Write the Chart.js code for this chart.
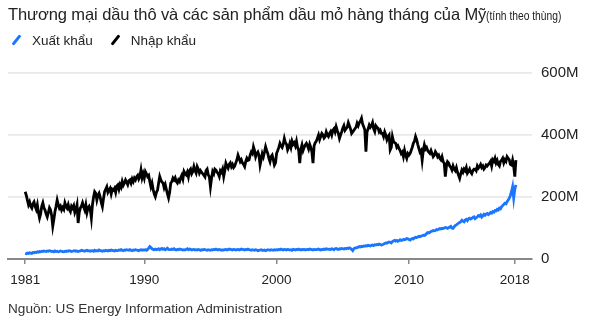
<!DOCTYPE html>
<html>
<head>
<meta charset="utf-8">
<script src="https://cdn.jsdelivr.net/npm/chart.js@4/dist/chart.umd.min.js"></script>
<style>
  html, body { margin: 0; padding: 0; background: #fff; }
  body { width: 600px; height: 332px; position: relative; overflow: hidden; font-family: "Liberation Sans", Arial, sans-serif; color: #222; }
  #title { position: absolute; left: 8px; top: 5px; font-size: 16.5px; white-space: nowrap; letter-spacing: -0.1px; }
  #title small { display: inline-block; font-size: 13px; letter-spacing: 0; transform: scaleX(0.79); transform-origin: left center; }
  #legend { position: absolute; left: 10px; top: 33px; font-size: 13.5px; white-space: nowrap; }
  #legend span.item { margin-right: 16px; }
  #legend i { display: inline-block; width: 3px; height: 12px; transform: rotate(38deg); margin: 0 14px -1px 5px; border-radius: 1px; }
  #source { position: absolute; left: 8px; top: 301px; font-size: 13.6px; color: #333; white-space: nowrap; }
  #wrap { position: absolute; left: 0; top: 0; width: 600px; height: 332px; }
</style>
</head>
<body>
<div id="wrap"><canvas id="chart" width="600" height="332"></canvas></div>
<div id="title">Thương mại dầu thô và các sản phẩm dầu mỏ hàng tháng của Mỹ<small>(tính theo thùng)</small></div>
<div id="legend"><span class="item"><i style="background:#1a75ff"></i>Xuất khẩu</span><span class="item"><i style="background:#000"></i>Nhập khẩu</span></div>
<div id="source">Nguồn: US Energy Information Administration</div>
<script>
// monthly values, millions of barrels, Jan 1981 .. Feb 2018
const startYear = 1981;
const xTicks = [1981, 1990, 2000, 2010, 2018];
const yTicks = [0, 200, 400, 600];

const imports = [
  217,205,190,175,184,170,164,178,184,170,160,175,
  150,132,145,170,181,165,158,145,136,150,165,158,
  140,106,128,153,170,190,175,164,170,158,166,160,
  181,170,164,175,160,153,170,164,172,150,160,175,
  116,150,164,170,181,168,158,175,150,165,170,160,
  132,175,200,217,212,190,205,212,200,182,169,195,
  217,225,233,215,222,228,210,225,222,228,215,235,
  239,225,240,232,250,238,245,255,248,240,252,255,
  245,258,250,261,255,265,270,258,266,287,262,275,
  261,282,275,266,270,250,233,245,225,210,201,215,
  222,245,266,255,248,245,230,240,225,210,197,215,
  245,250,261,255,262,250,245,255,250,262,270,258,
  282,275,271,280,265,285,290,275,282,298,285,277,
  298,290,277,285,280,275,270,265,285,290,272,265,
  233,260,282,275,290,287,280,275,266,285,280,290,
  266,285,309,300,293,305,310,298,305,295,300,310,
  320,335,325,314,320,310,305,298,315,325,318,320,
  335,345,340,362,350,330,340,345,335,303,320,340,
  330,345,362,350,340,325,314,330,335,320,303,310,
  341,350,360,373,365,360,370,389,375,370,352,360,
  373,360,380,370,375,365,380,360,350,309,355,368,
  350,360,368,373,365,355,370,360,345,309,365,375,
  380,390,400,385,395,405,400,390,395,410,400,395,
  405,411,400,415,420,410,427,415,405,389,400,410,
  422,430,415,420,425,440,430,420,405,410,415,420,
  425,438,430,440,445,454,435,427,416,346,410,420,
  432,425,430,440,420,411,430,425,422,410,415,405,
  405,395,410,400,385,395,400,352,360,395,380,375,
  373,360,365,357,350,340,345,330,350,335,325,340,
  335,340,350,360,373,380,395,385,370,357,345,350,
  319,350,368,355,360,350,345,341,350,340,330,335,
  346,340,330,335,325,320,330,315,309,266,300,314,
  310,300,295,287,300,290,285,295,280,270,260,275,
  287,280,290,285,295,277,283,290,280,275,285,290,
  290,285,300,293,298,305,295,300,290,295,303,300,
  305,309,315,300,320,315,325,310,318,305,300,315,
  319,325,310,320,315,330,325,320,305,303,319,300,
  266,319
];

const exports = [
  18,17,19,18,20,19,18,21,20,22,21,23,
  22,24,23,25,24,26,25,24,26,25,27,26,
  24,25,23,26,24,25,23,24,26,25,24,23,
  25,24,26,25,27,26,24,25,26,27,25,26,
  24,25,26,28,27,26,25,27,28,26,27,25,
  26,27,25,28,26,27,26,29,27,26,25,27,
  26,28,27,26,28,27,29,28,27,26,28,27,
  27,29,28,30,28,27,29,28,30,29,28,30,
  28,27,29,28,30,29,28,27,29,30,28,29,
  29,30,28,31,35,40,37,33,31,30,32,30,
  31,33,30,32,34,31,33,30,32,35,31,30,
  30,32,31,33,30,29,31,30,32,31,30,29,
  30,29,31,33,30,32,31,29,30,31,29,30,
  29,31,30,28,30,29,31,30,29,28,30,29,
  28,30,29,31,30,32,30,29,31,30,28,29,
  29,30,31,29,30,32,31,30,29,31,30,29,
  30,31,29,30,32,31,30,29,31,30,32,30,
  29,28,30,29,28,30,29,27,28,29,30,28,
  28,29,27,28,30,29,28,30,29,28,30,29,
  30,29,31,30,32,30,29,31,30,29,31,30,
  29,30,28,31,30,29,31,30,32,30,29,31,
  30,31,29,30,31,30,32,31,30,29,31,30,
  30,31,32,30,29,31,30,32,31,33,32,31,
  32,31,33,32,30,33,34,32,31,33,32,34,
  33,32,34,33,35,34,36,34,31,27,33,35,
  36,37,38,40,39,41,40,42,41,43,42,44,
  43,42,44,45,43,46,45,47,46,48,47,45,
  46,48,50,52,51,53,55,54,52,56,58,60,
  58,60,57,59,62,60,61,63,62,64,66,65,
  63,61,64,66,65,68,70,69,71,73,72,74,
  75,77,76,78,82,85,84,86,89,90,92,91,
  92,95,94,96,98,97,99,98,100,102,101,99,
  101,103,105,100,99,104,108,110,113,116,118,120,
  125,122,120,126,128,124,130,132,129,131,134,136,
  130,133,136,140,138,142,135,139,144,141,145,147,
  143,146,150,148,153,151,156,155,160,158,164,162,
  168,172,176,180,178,185,190,196,205,217,233,197,
  225,239
];

function toPoints(arr) {
  return arr.map((v, i) => ({ x: startYear + i / 12, y: v }));
}

const chart = new Chart(document.getElementById('chart'), {
  type: 'line',
  data: {
    datasets: [
      {
        label: 'Xuất khẩu',
        data: toPoints(exports),
        borderColor: '#1a75ff',
        backgroundColor: '#1a75ff',
        borderWidth: 2.8,
        pointRadius: 0,
        tension: 0
      },
      {
        label: 'Nhập khẩu',
        data: toPoints(imports),
        borderColor: '#000000',
        backgroundColor: '#000000',
        borderWidth: 2.8,
        pointRadius: 0,
        tension: 0
      }
    ]
  },
  options: {
    responsive: false,
    animation: false,
    layout: { padding: { left: 8, top: 73, right: 0, bottom: 43 } },
    plugins: { legend: { display: false }, tooltip: { enabled: false } },
    scales: {
      x: {
        type: 'linear',
        min: 1979.7,
        max: 2019.3,
        afterBuildTicks: (s) => { s.ticks = xTicks.map(v => ({ value: v })); },
        afterFit: (s) => { s.height = 30; },
        grid: { drawOnChartArea: false, drawTicks: true, tickLength: 5, color: '#888', lineWidth: 1.5 },
        border: { display: true, color: '#888', width: 2 },
        ticks: {
          padding: 8,
          color: '#222',
          font: { family: 'Liberation Sans', size: 13.5 },
          maxRotation: 0,
          callback: (v) => String(v)
        }
      },
      y: {
        position: 'right',
        min: 0,
        max: 600,
        afterBuildTicks: (s) => { s.ticks = yTicks.map(v => ({ value: v })); },
        afterFit: (s) => { s.width = 68; },
        grid: { color: '#e9e9e9', lineWidth: 1.8, drawTicks: false },
        border: { display: false },
        ticks: {
          padding: 9,
          color: '#222',
          font: { family: 'Liberation Sans', size: 15 },
          callback: (v) => v === 0 ? '0' : v + 'M'
        }
      }
    }
  }
});
</script>
</body>
</html>
